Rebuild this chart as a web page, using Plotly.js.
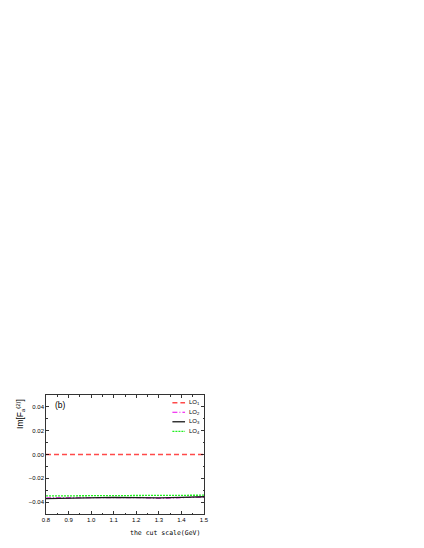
<!DOCTYPE html>
<html>
<head>
<meta charset="utf-8">
<script src="https://cdn.plot.ly/plotly-3.0.1.min.js"></script>
<style>
  html, body { margin: 0; padding: 0; background: #fff; }
  #chart { width: 424px; height: 548px; }
</style>
</head>
<body>
<div id="chart"></div>
<script>
// cut scale (GeV)
const cutScale = [0.8, 0.9, 1.0, 1.1, 1.2, 1.3, 1.4, 1.5];

// Im[F_a^(2)] for each LO scheme
const lo1 = [0.0, 0.0, 0.0, 0.0, 0.0, 0.0, 0.0, 0.0];
const lo2 = [-0.0365, -0.0363, -0.0361, -0.0360, -0.0362, -0.0368, -0.0364, -0.0358];
const lo3 = [-0.0370, -0.0366, -0.0362, -0.0360, -0.0362, -0.0365, -0.0360, -0.0355];
const lo4 = [-0.0348, -0.0347, -0.0346, -0.0345, -0.0345, -0.0344, -0.0343, -0.0342];

const seriesNames = ['LO<sub>1</sub>', 'LO<sub>2</sub>', 'LO<sub>3</sub>', 'LO<sub>4</sub>'];
const seriesLines = [
  { color: '#ff4a4a', width: 1.6, dash: '5px,3px' },
  { color: '#ee00ee', width: 1.1, dash: '5px,2px,1px,2px' },
  { color: '#1a1a1a', width: 1.3, dash: 'solid' },
  { color: '#22ee22', width: 1.3, dash: '2px,1px' }
];

const traces = [lo1, lo2, lo3, lo4].map((ys, i) => ({
  x: cutScale, y: ys, name: seriesNames[i], mode: 'lines', line: seriesLines[i]
}));

const axisFont = { family: 'Liberation Sans, Arial, sans-serif', size: 6, color: '#000' };

// hand-made legend (plotly's legend rows can't get this tight)
const legendY = [0.935, 0.855, 0.775, 0.695];
const legendShapes = legendY.map((y, i) => ({
  type: 'line', xref: 'paper', yref: 'paper', x0: 0.80, x1: 0.88, y0: y, y1: y,
  line: seriesLines[i]
}));
const legendLabels = legendY.map((y, i) => ({
  text: seriesNames[i], xref: 'paper', yref: 'paper', x: 0.895, y: y,
  xanchor: 'left', yanchor: 'middle', showarrow: false,
  font: { family: 'Liberation Sans, Arial, sans-serif', size: 6, color: '#000' }
}));

const layout = {
  width: 424,
  height: 548,
  margin: { l: 46, r: 220, t: 395, b: 34 },
  paper_bgcolor: '#fff',
  plot_bgcolor: '#fff',
  showlegend: false,
  xaxis: {
    range: [0.8, 1.5],
    dtick: 0.1,
    tickformat: '.1f',
    ticks: 'inside', ticklen: 3, tickwidth: 0.8, tickcolor: '#000',
    minor: { dtick: 0.05, ticks: 'inside', ticklen: 1.5, tickcolor: '#000' },
    showline: true, linecolor: '#000', linewidth: 0.8, mirror: 'ticks',
    showgrid: false, zeroline: false,
    tickfont: axisFont
  },
  yaxis: {
    range: [-0.05, 0.05],
    dtick: 0.02,
    tickformat: '.2f',
    ticks: 'inside', ticklen: 3, tickwidth: 0.8, tickcolor: '#000',
    minor: { dtick: 0.01, ticks: 'inside', ticklen: 1.5, tickcolor: '#000' },
    showline: true, linecolor: '#000', linewidth: 0.8, mirror: 'ticks',
    showgrid: false, zeroline: false,
    tickfont: axisFont
  },
  shapes: legendShapes,
  annotations: [
    { text: '(b)', xref: 'paper', yref: 'paper', x: 0.045, y: 0.915,
      xanchor: 'left', yanchor: 'middle', showarrow: false,
      font: { family: 'Liberation Sans, Arial, sans-serif', size: 8.5, color: '#000' } },
    { text: 'Im[F<sub>a</sub><sup>(2)</sup>]', xref: 'paper', yref: 'paper', x: -0.165, y: 0.84,
      xanchor: 'center', yanchor: 'middle', textangle: -90, showarrow: false,
      font: { family: 'Liberation Sans, Arial, sans-serif', size: 8.5, color: '#000' } },
    { text: 'the cut scale(GeV)', xref: 'paper', yref: 'paper', x: 0.99, y: -0.16,
      xanchor: 'right', yanchor: 'middle', showarrow: false,
      font: { family: 'DejaVu Sans Mono, monospace', size: 6.5, color: '#000' } }
  ].concat(legendLabels)
};

Plotly.newPlot('chart', traces, layout, { displayModeBar: false, staticPlot: true });
</script>
</body>
</html>
